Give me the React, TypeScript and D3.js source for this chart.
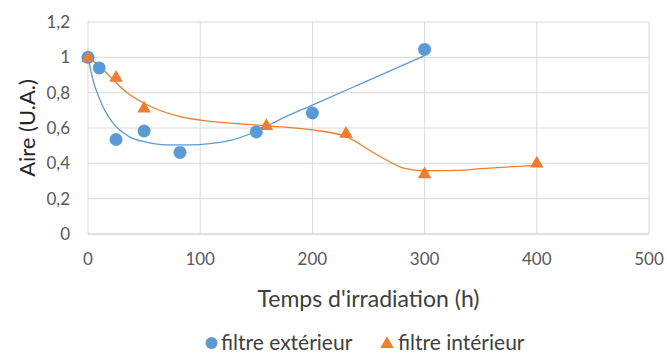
import React from 'react'
import * as d3 from 'd3'

// filtre extérieur (circles)
const extX = [0, 10, 25, 50, 82, 150, 200, 300]
const extY = [1.0, 0.94, 0.535, 0.583, 0.462, 0.578, 0.685, 1.045]
// filtre intérieur (triangles)
const intX = [0, 25, 50, 159, 230, 300, 400]
const intY = [1.0, 0.89, 0.716, 0.617, 0.573, 0.343, 0.404]

// trend curves
const extTrendX = [0, 5, 10, 15, 22, 37, 52, 70, 90, 127, 153, 170, 200, 250, 300]
const extTrendY = [1.0, 0.86, 0.77, 0.7, 0.63, 0.55, 0.52, 0.505, 0.505, 0.53, 0.59, 0.645, 0.73, 0.87, 1.01]
const intTrendX = [0, 12, 22, 35, 50, 82, 112, 160, 200, 230, 258, 282, 300, 330, 350, 400]
const intTrendY = [1.0, 0.94, 0.875, 0.8, 0.74, 0.664, 0.636, 0.612, 0.589, 0.551, 0.447, 0.372, 0.358, 0.36, 0.37, 0.388]

const xTicks = [0, 100, 200, 300, 400, 500]
const yTicks = [0, 0.2, 0.4, 0.6, 0.8, 1, 1.2]

const BLUE = '#5b9bd5'
const ORANGE = '#ed7d31'
const FONT = 'Lato, "Open Sans", sans-serif'

export default function App() {
    const width = 667
    const height = 354
    const margin = { top: 22, right: 18, bottom: 120, left: 88 }

    const xScale = d3.scaleLinear().domain([0, 500]).range([margin.left, width - margin.right])
    const yScale = d3.scaleLinear().domain([0, 1.2]).range([height - margin.bottom, margin.top])

    const fmt = (v: number) => d3.format('.1~f')(v).replace('.', ',')

    const line = d3
        .line<[number, number]>()
        .x(d => xScale(d[0]))
        .y(d => yScale(d[1]))
        .curve(d3.curveMonotoneX)

    const extPath = line(extTrendX.map((x, i) => [x, extTrendY[i]]))
    const intPath = line(intTrendX.map((x, i) => [x, intTrendY[i]]))

    const tri = d3.symbol().type(d3.symbolTriangle).size(80)()

    return (
        <svg width={width} height={height} style={{ position: 'absolute', left: 0, top: 0 }}>
            <rect width={width} height={height} fill="#fff" />
            {/* grid */}
            {yTicks.map(t => (
                <line key={'gy' + t} x1={xScale(0)} x2={xScale(500)} y1={yScale(t)} y2={yScale(t)}
                    stroke={t === 0 ? '#bfbfbf' : '#d9d9d9'} strokeWidth={1} />
            ))}
            {xTicks.map(t => (
                <line key={'gx' + t} x1={xScale(t)} x2={xScale(t)} y1={yScale(0)} y2={yScale(1.2)}
                    stroke="#d9d9d9" strokeWidth={1} />
            ))}
            {/* tick labels */}
            {yTicks.map(t => (
                <text key={'ty' + t} x={xScale(0) - 18} y={yScale(t)} dy="0.35em" textAnchor="end"
                    fontFamily={FONT} fontSize={17} fill="#595959">{fmt(t)}</text>
            ))}
            {xTicks.map(t => (
                <text key={'tx' + t} x={xScale(t)} y={yScale(0) + 25} dy="0.35em" textAnchor="middle"
                    fontFamily={FONT} fontSize={17} fill="#595959">{t}</text>
            ))}
            {/* axis titles */}
            <text x={(xScale(0) + xScale(500)) / 2} y={299} dy="0.35em" textAnchor="middle"
                fontFamily={FONT} fontSize={23} fill="#404040">Temps d'irradiation (h)</text>
            <text transform={`translate(27, ${(yScale(0) + yScale(1.2)) / 2}) rotate(-90)`} dy="0.35em"
                textAnchor="middle" fontFamily={FONT} fontSize={22} fill="#262626">Aire (U.A.)</text>
            {/* trend curves */}
            <path d={extPath ?? ''} fill="none" stroke={BLUE} strokeWidth={1.3} />
            <path d={intPath ?? ''} fill="none" stroke={ORANGE} strokeWidth={1.3} />
            {/* markers */}
            {extX.map((x, i) => (
                <circle key={'c' + i} cx={xScale(x)} cy={yScale(extY[i])} r={6.5} fill={BLUE} />
            ))}
            {intX.map((x, i) => (
                <path key={'t' + i} d={tri ?? ''} transform={`translate(${xScale(x)}, ${yScale(intY[i]) + 1})`}
                    fill={ORANGE} />
            ))}
            {/* legend */}
            <circle cx={211.5} cy={343} r={6} fill={BLUE} />
            <text x={221} y={343} dy="0.35em" fontFamily={FONT} fontSize={21} fill="#404040">filtre extérieur</text>
            <path d={tri ?? ''} transform="translate(387, 344)" fill={ORANGE} />
            <text x={398} y={343} dy="0.35em" fontFamily={FONT} fontSize={21} fill="#404040">filtre intérieur</text>
        </svg>
    )
}
